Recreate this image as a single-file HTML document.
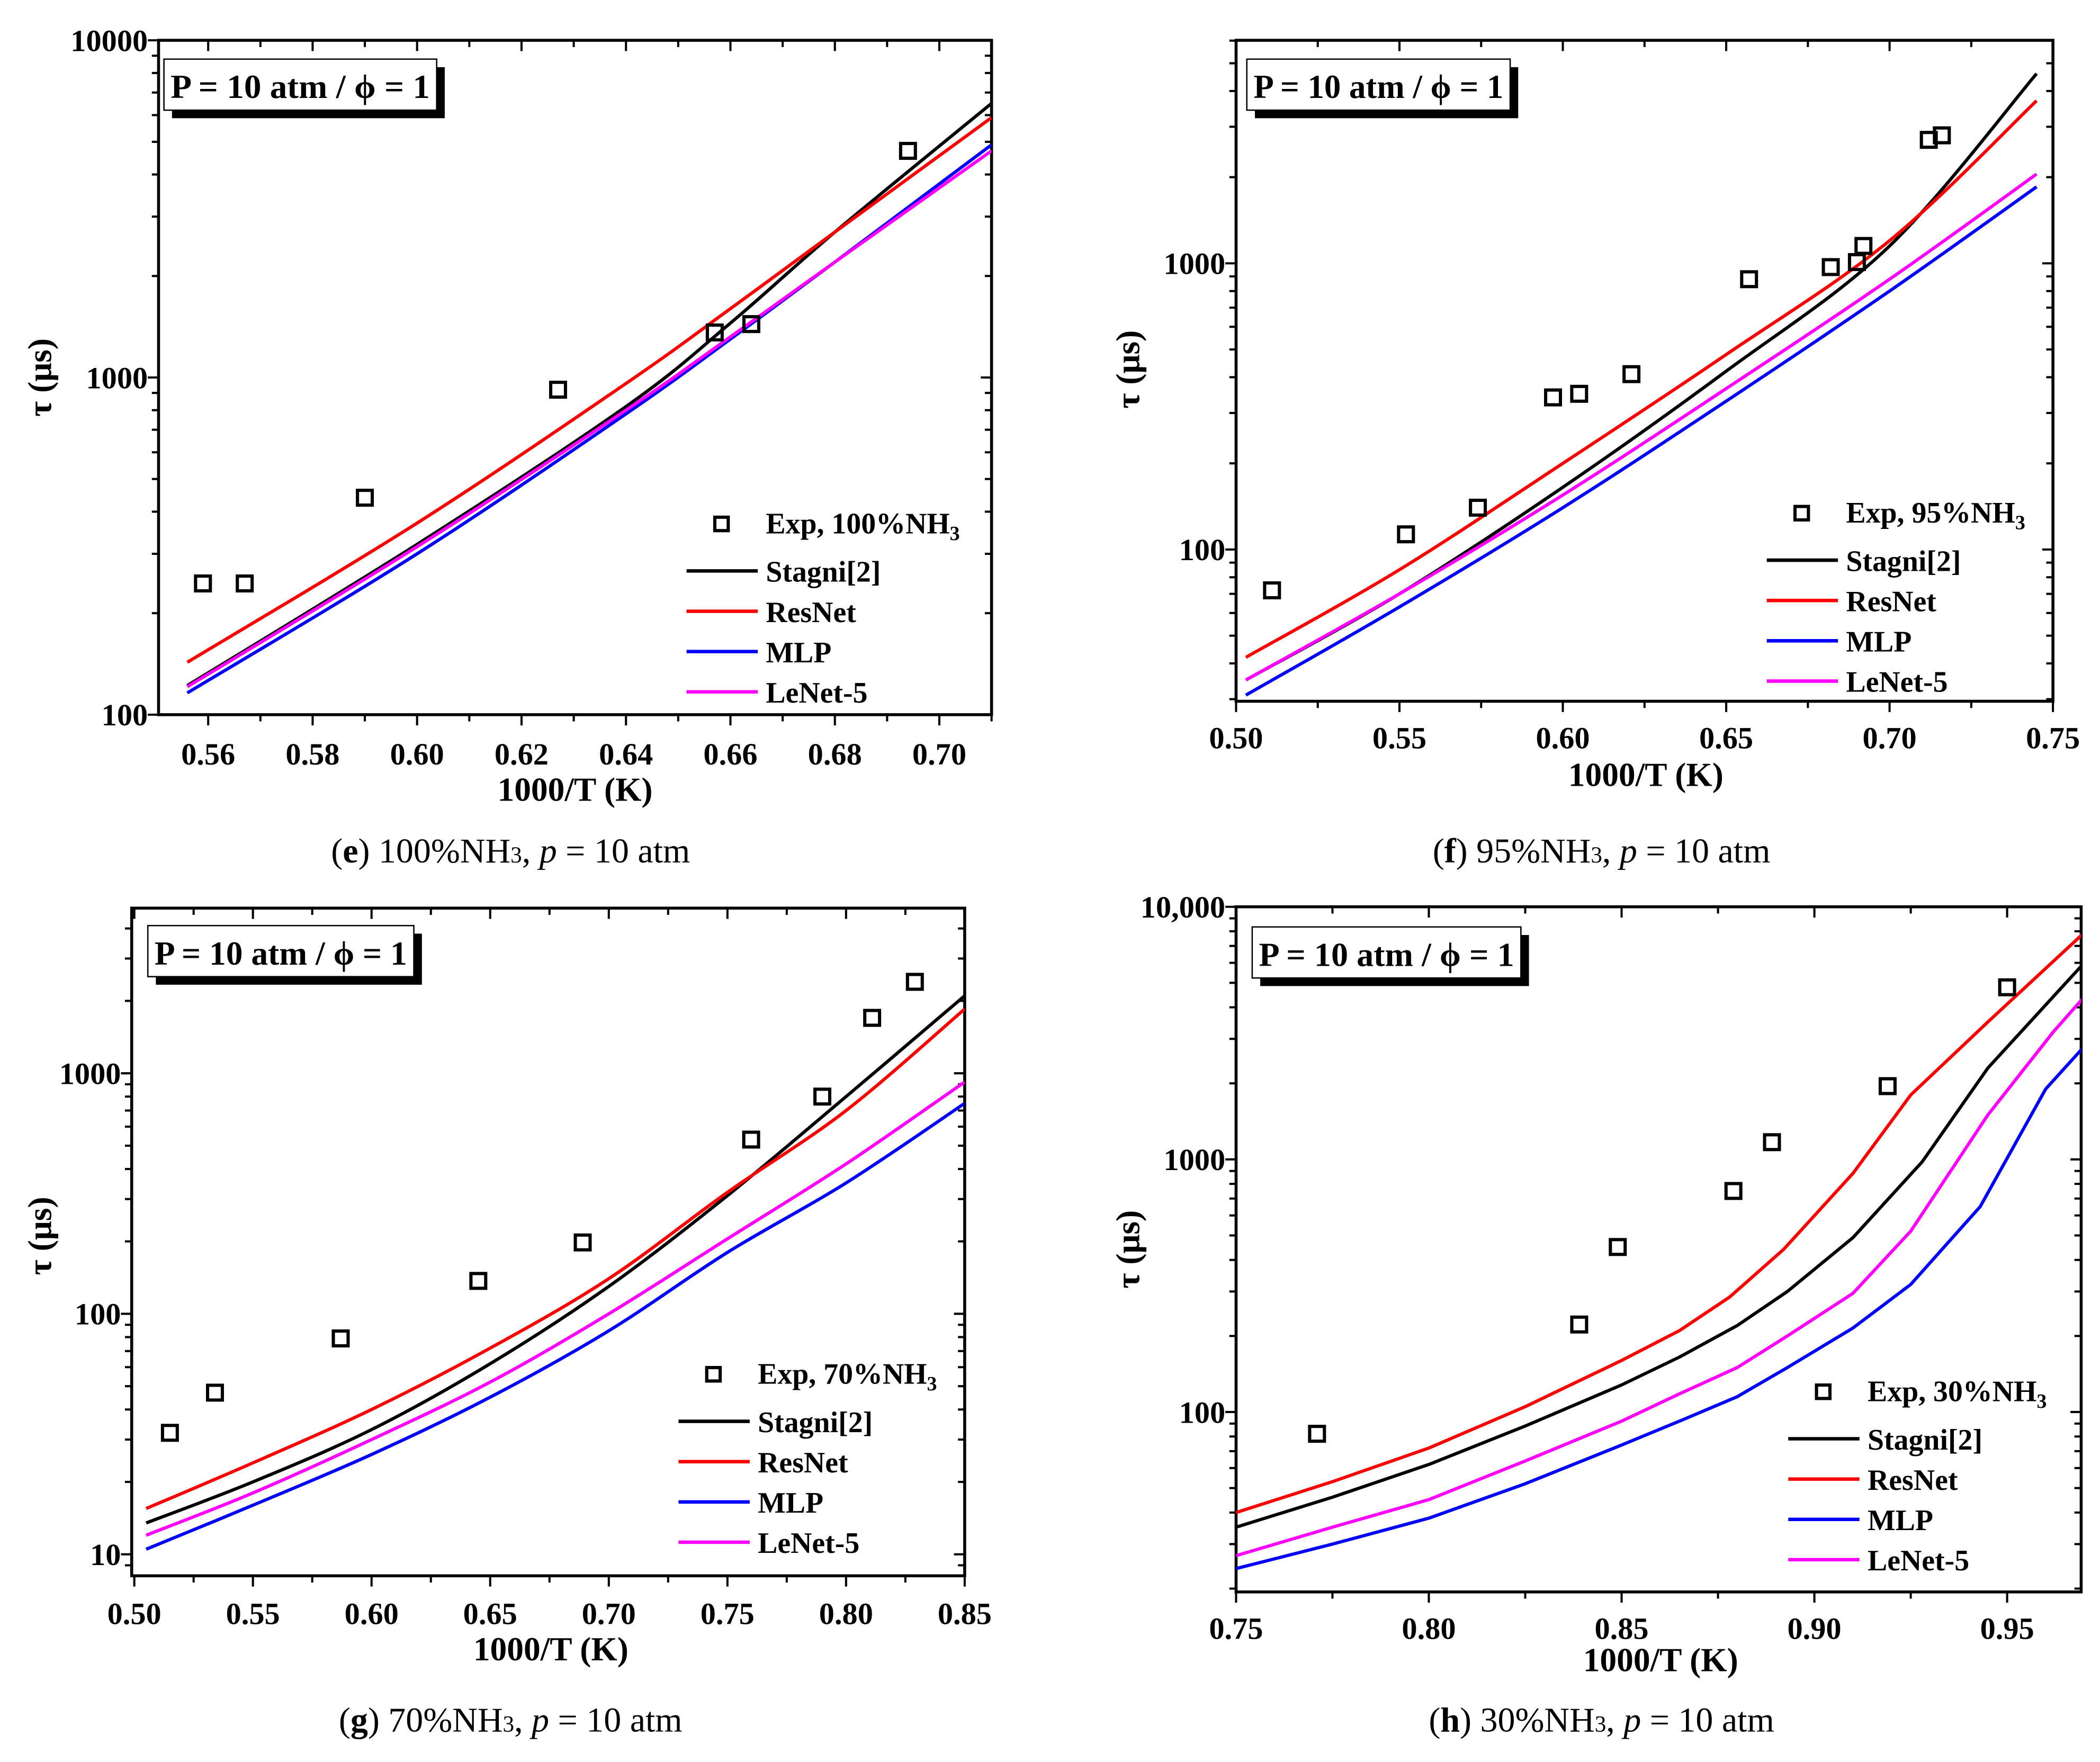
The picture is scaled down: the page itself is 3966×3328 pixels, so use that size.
<!DOCTYPE html>
<html><head><meta charset="utf-8">
<style>
html,body{margin:0;padding:0;background:#fff;}
svg{display:block;}
text{font-family:"Liberation Serif",serif;}
</style></head>
<body>
<svg id="fig" xmlns="http://www.w3.org/2000/svg" width="3966" height="3328" viewBox="0 0 1563 1311.6">
<rect x="0" y="0" width="1563" height="1311.6" fill="#fff"/>
</svg>
<script>
// ---------- Panel e data ----------
const eX = [0.556, 0.60, 0.64, 0.66, 0.68, 0.71];
const eStagni = [122, 320, 820, 1450, 2700, 6500];
const eResNet = [143, 370, 960, 1600, 2700, 5900];
const eMLP = [116, 300, 780, 1300, 2200, 4900];
const eLeNet = [121, 315, 800, 1320, 2200, 4700];
const eExpX = [0.559, 0.567, 0.590, 0.627, 0.657, 0.664, 0.694];
const eExpY = [245, 245, 440, 920, 1360, 1440, 4700];
const eXTicks = ["0.56","0.58","0.60","0.62","0.64","0.66","0.68","0.70"];
const eYTicks = ["100","1000","10000"];

// ---------- Panel f data ----------
const fX = [0.503, 0.55, 0.60, 0.65, 0.70, 0.745];
const fStagni = [35, 70, 165, 420, 1150, 4600];
const fResNet = [42, 85, 200, 480, 1200, 3700];
const fMLP = [31, 63, 140, 330, 800, 1850];
const fLeNet = [35, 70, 155, 365, 880, 2050];
const fExpX = [0.511, 0.552, 0.574, 0.597, 0.605, 0.621, 0.657, 0.682, 0.690, 0.692, 0.712, 0.716];
const fExpY = [72, 113, 140, 340, 350, 410, 880, 970, 1010, 1150, 2700, 2800];
const fXTicks = ["0.50","0.55","0.60","0.65","0.70","0.75"];
const fYTicks = ["100","1000"];

// ---------- Panel g data ----------
const gX = [0.505, 0.55, 0.60, 0.65, 0.70, 0.75, 0.80, 0.85];
const gStagni = [13.5, 20, 33, 62, 130, 310, 800, 2100];
const gResNet = [15.5, 24, 40, 72, 140, 320, 700, 1850];
const gMLP = [10.5, 16, 26, 45, 85, 180, 350, 750];
const gLeNet = [12, 18, 30, 52, 100, 205, 420, 920];
const gExpX = [0.515, 0.534, 0.587, 0.645, 0.689, 0.760, 0.790, 0.811, 0.829];
const gExpY = [32, 47, 79, 137, 198, 530, 800, 1700, 2400];
const gXTicks = ["0.50","0.55","0.60","0.65","0.70","0.75","0.80","0.85"];
const gYTicks = ["10","100","1000"];

// ---------- Panel h data ----------
const hRX = [0.75, 0.775, 0.80, 0.825, 0.85, 0.865, 0.878, 0.892, 0.91, 0.925, 0.945, 0.97];
const hResNet = [40, 53, 72, 105, 160, 210, 285, 440, 880, 1800, 3500, 7900];
const hSX = [0.75, 0.775, 0.80, 0.825, 0.85, 0.865, 0.88, 0.893, 0.91, 0.928, 0.945, 0.97];
const hStagni = [35, 46, 62, 88, 128, 165, 220, 300, 490, 980, 2300, 6000];
const hLX = [0.75, 0.775, 0.80, 0.825, 0.85, 0.865, 0.88, 0.893, 0.91, 0.925, 0.945, 0.962, 0.97];
const hLeNet = [27, 35, 45, 64, 92, 118, 150, 200, 295, 520, 1500, 3200, 4400];
const hMX = [0.75, 0.775, 0.80, 0.825, 0.85, 0.865, 0.88, 0.893, 0.91, 0.925, 0.943, 0.96, 0.97];
const hMLP = [24, 30, 38, 52, 74, 92, 115, 150, 215, 320, 650, 1900, 2800];
const hExpX = [0.771, 0.839, 0.849, 0.879, 0.889, 0.919, 0.950];
const hExpY = [82, 222, 450, 750, 1170, 1950, 4800];
const hXTicks = ["0.75","0.80","0.85","0.90","0.95"];
const hYTicks = ["100","1000","10,000"];

const NS = "http://www.w3.org/2000/svg";
const svg = document.getElementById("fig");
function mk(tag, attrs, parent, txt){
  const el = document.createElementNS(NS, tag);
  for (const k in attrs) el.setAttribute(k, attrs[k]);
  if (txt !== undefined) el.textContent = txt;
  (parent || svg).appendChild(el);
  return el;
}
const COLORS = {Stagni:"#000", ResNet:"#f00", MLP:"#00f", LeNet:"#f0f"};

function smoothPath(pts){
  let d = "M" + pts[0][0].toFixed(2) + "," + pts[0][1].toFixed(2);
  for (let i=0;i<pts.length-1;i++){
    const p0 = pts[Math.max(0,i-1)], p1 = pts[i], p2 = pts[i+1], p3 = pts[Math.min(pts.length-1,i+2)];
    const t = 0.5/3;
    const c1x = p1[0] + (p2[0]-p0[0])*t, c1y = p1[1] + (p2[1]-p0[1])*t;
    const c2x = p2[0] - (p3[0]-p1[0])*t, c2y = p2[1] - (p3[1]-p1[1])*t;
    d += ` C${c1x.toFixed(2)},${c1y.toFixed(2)} ${c2x.toFixed(2)},${c2y.toFixed(2)} ${p2[0].toFixed(2)},${p2[1].toFixed(2)}`;
  }
  return d;
}
function linePath(pts){
  return pts.map((p,i)=>(i?"L":"M")+p[0].toFixed(2)+","+p[1].toFixed(2)).join(" ");
}

function panel(cfg){
  const g = mk("g", {});
  
  
  const L=cfg.L,R=cfg.R,T=cfg.T,B=cfg.B;
  const xs = v => L + (v - cfg.x0)/(cfg.x1 - cfg.x0)*(R-L);
  const ys = v => T + (Math.log10(cfg.y1) - Math.log10(v))/(Math.log10(cfg.y1)-Math.log10(cfg.y0))*(B-T);
  const cp = mk("clipPath", {id: cfg.name+"-clip"}, g);
  mk("rect", {x:L, y:T, width:R-L, height:B-T}, cp);
  const fr = mk("rect", {x:L, y:T, width:R-L, height:B-T, fill:"none", stroke:"#000", "stroke-width":2.2}, g);
  
  
  const step = cfg.xStep;
  for (let v = Math.ceil(cfg.x0/step*2-1e-6)/2*step; v <= cfg.x1+1e-9; v += step/2){
    const major = Math.abs(Math.round(v/step)*step - v) < 1e-6;
    const x = xs(v), len = major?8:5;
    mk("line", {x1:x, x2:x, y1:B, y2:B+len, stroke:"#000","stroke-width":1.6}, g);
    mk("line", {x1:x, x2:x, y1:T, y2:T+len, stroke:"#000","stroke-width":1.6}, g);
  }
  cfg.xTicks.forEach(s=>{
    const t = mk("text", {x:xs(parseFloat(s)), y:cfg.xLabY, "text-anchor":"middle", "font-size":23, "font-weight":"bold"}, g, s);
    
    
  });
  const d0 = Math.floor(Math.log10(cfg.y0)), d1 = Math.ceil(Math.log10(cfg.y1));
  for (let d=d0; d<=d1; d++){
    for (let m=1; m<10; m++){
      const v = m*Math.pow(10,d);
      if (v < cfg.y0*0.999 || v > cfg.y1*1.001) continue;
      const y = ys(v), len = m===1?8:5;
      mk("line", {x1:L-len, x2:L, y1:y, y2:y, stroke:"#000","stroke-width":1.6}, g);
      mk("line", {x1:R-len, x2:R, y1:y, y2:y, stroke:"#000","stroke-width":1.6}, g);
    }
  }
  cfg.yTicks.forEach(s=>{
    const t = mk("text", {x:L-8, y:ys(parseFloat(s.replace(",","")))+8, "text-anchor":"end", "font-size":23, "font-weight":"bold"}, g, s);
    
    
  });
  const xt = mk("text", {x:cfg.xTitle[0], y:cfg.xTitle[1], "text-anchor":"middle", "font-size":25, "font-weight":"bold"}, g, "1000/T (K)");
  
  
  const yt = mk("text", {x:0, y:0, transform:`translate(${cfg.yTitle[0]},${cfg.yTitle[1]}) rotate(-90)`, "text-anchor":"middle", "font-size":25, "font-weight":"bold"}, g, "τ (μs)");
  
  
  const lg = mk("g", {"clip-path":`url(#${cfg.name}-clip)`}, g);
  cfg.series.forEach(s=>{
    const pts = s.x.map((xv,i)=>[xs(xv), ys(s.y[i])]);
    const p = mk("path", {d:cfg.linear?linePath(pts):smoothPath(pts), fill:"none", stroke:COLORS[s.key], "stroke-width":2.4, "stroke-linejoin":"round"}, lg);
    
    
  });
  cfg.expX.forEach((xv,i)=>{
    const r = mk("rect", {x:xs(xv)-5.5, y:ys(cfg.expY[i])-5.5, width:11, height:11, fill:"none", stroke:"#000", "stroke-width":2.4}, g);
    
    
  });
  const bx=cfg.box[0], by=cfg.box[1], bw=cfg.box[2], bh=38;
  mk("rect", {x:bx+6, y:by+6, width:bw, height:bh, fill:"#000"}, g);
  const br = mk("rect", {x:bx, y:by, width:bw, height:bh, fill:"#fff", stroke:"#000", "stroke-width":1}, g);
  
  
  mk("text", {x:bx+5, y:by+29, "font-size":25, "font-weight":"bold", textLength:bw-10, lengthAdjust:"spacingAndGlyphs"}, g, "P = 10 atm / ϕ = 1");
  const lx=cfg.leg[0], ly=cfg.leg[1];
  const le = mk("g", {}, g);
  
  
  mk("rect", {x:lx+21, y:ly-5, width:10, height:10, fill:"none", stroke:"#000","stroke-width":2.4}, le);
  const et = mk("text", {x:lx+59, y:ly+7, "font-size":22, "font-weight":"bold"}, le, "Exp, "+cfg.pct+"%NH");
  mk("tspan", {"font-size":15, dy:5}, et, "3");
  const names = [["Stagni","Stagni[2]"],["ResNet","ResNet"],["MLP","MLP"],["LeNet","LeNet-5"]];
  names.forEach((n,i)=>{
    const y = ly + 35 + i*30;
    const ll = mk("line", {x1:lx, x2:lx+53, y1:y, y2:y, stroke:COLORS[n[0]], "stroke-width":2.6}, le);
    
    
    mk("text", {x:lx+59, y:y+8, "font-size":22, "font-weight":"bold"}, le, n[1]);
  });
  const cap = mk("text", {x:cfg.cap[0], y:cfg.cap[1], "text-anchor":"middle", "font-size":26}, g);
  
  
  mk("tspan", {}, cap, "(");
  mk("tspan", {"font-weight":"bold"}, cap, cfg.letter);
  mk("tspan", {}, cap, ") "+cfg.pct+"%NH");
  mk("tspan", {"font-size":17}, cap, "3");
  mk("tspan", {}, cap, ", ");
  mk("tspan", {"font-style":"italic"}, cap, "p");
  mk("tspan", {}, cap, " = 10 atm");
}

panel({name:"panel-e", L:118, R:738, T:30, B:532, x0:0.5505, x1:0.7100, xStep:0.02, y0:100, y1:10000,
  xTicks:eXTicks, yTicks:eYTicks, xLabY:569, xTitle:[428,596], yTitle:[38,281],
  series:[{key:"Stagni",x:eX,y:eStagni},{key:"ResNet",x:eX,y:eResNet},{key:"MLP",x:eX,y:eMLP},{key:"LeNet",x:eX,y:eLeNet}],
  expX:eExpX, expY:eExpY, box:[122,44,203], leg:[511,390], pct:"100", cap:[380,642], letter:"e"});

panel({name:"panel-f", L:920, R:1528, T:30, B:522, x0:0.50, x1:0.75, xStep:0.05, y0:29.5, y1:6015,
  xTicks:fXTicks, yTicks:fYTicks, xLabY:557, xTitle:[1225,585], yTitle:[848,275],
  series:[{key:"Stagni",x:fX,y:fStagni},{key:"ResNet",x:fX,y:fResNet},{key:"MLP",x:fX,y:fMLP},{key:"LeNet",x:fX,y:fLeNet}],
  expX:fExpX, expY:fExpY, box:[928,44,196], leg:[1315,382], pct:"95", cap:[1192,642], letter:"f"});

panel({name:"panel-g", L:98, R:718, T:676, B:1173, x0:0.4989, x1:0.85, xStep:0.05, y0:8.14, y1:4860,
  xTicks:gXTicks, yTicks:gYTicks, xLabY:1209, xTitle:[410,1236], yTitle:[38,920],
  series:[{key:"Stagni",x:gX,y:gStagni},{key:"ResNet",x:gX,y:gResNet},{key:"MLP",x:gX,y:gMLP},{key:"LeNet",x:gX,y:gLeNet}],
  expX:gExpX, expY:gExpY, box:[110,689,198], leg:[505,1023], pct:"70", cap:[380,1289], letter:"g"});

panel({name:"panel-h", L:920, R:1549, T:675, B:1185, x0:0.75, x1:0.9692, xStep:0.05, y0:19.4, y1:10000, linear:true,
  xTicks:hXTicks, yTicks:hYTicks, xLabY:1220, xTitle:[1236,1244], yTitle:[848,930],
  series:[{key:"ResNet",x:hRX,y:hResNet},{key:"Stagni",x:hSX,y:hStagni},{key:"MLP",x:hMX,y:hMLP},{key:"LeNet",x:hLX,y:hLeNet}],
  expX:hExpX, expY:hExpY, box:[932,690,200], leg:[1331,1036], pct:"30", cap:[1192,1289], letter:"h"});
</script>
</body></html>
